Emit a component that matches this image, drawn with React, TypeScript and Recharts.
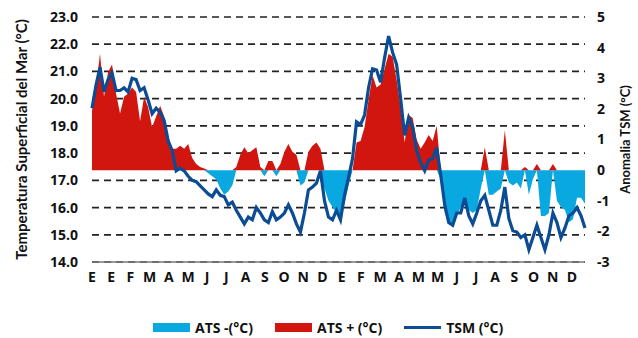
import {
  ComposedChart,
  Area,
  Line,
  XAxis,
  YAxis,
  CartesianGrid,
} from 'recharts';

// month labels along the x axis (as printed in the source figure)
const monthLabels = [
  'E', 'E', 'F', 'M', 'A', 'M', 'J', 'J', 'A', 'S', 'O', 'N', 'D',
  'E', 'F', 'M', 'A', 'M', 'M', 'J', 'J', 'A', 'S', 'O', 'N', 'D',
];

// sea surface temperature (°C), left axis
const tsm = [
  19.65, 20.5, 21.15, 20.25, 20.7, 20.95, 20.3, 20.3, 20.4, 20.25, 20.75, 20.7, 20.3, 20.4, 19.95, 19.45,
  19.65, 19.5, 19.2, 18.45, 18.1, 17.35, 17.45, 17.35, 17.15, 17.0, 16.95, 16.8, 16.65, 16.5, 16.4,
  16.65, 16.45, 16.4, 16.1, 16.2, 15.9, 15.65, 15.4, 15.65, 15.55, 16.0, 15.8, 15.55, 15.45, 15.85, 15.55,
  15.65, 15.8, 16.1, 15.8, 15.4, 15.1, 15.8, 16.65, 16.75, 16.9, 17.35, 16.25, 15.65, 15.55, 15.9,
  15.55, 16.45, 17.1, 17.8, 19.15, 19.05, 19.4, 20.4, 21.1, 21.05, 20.6, 21.5, 22.3, 21.7, 21.25, 20.0,
  18.65, 19.3, 18.95, 18.1, 17.65, 17.35, 17.75, 17.8, 18.2, 17.2, 16.1, 15.45, 15.35, 15.8, 15.8,
  16.35, 15.7, 15.4, 15.8, 16.25, 16.45, 15.9, 15.35, 15.35, 15.9, 16.75, 15.6, 15.15, 15.1, 14.9, 15.0,
  14.45, 14.9, 15.35, 14.9, 14.45, 15.0, 15.8, 15.45, 14.9, 15.25, 15.7, 15.8, 16.0, 15.7, 15.25,
];

// SST anomaly (°C), right axis
const ats = [
  1.94, 2.7, 3.8, 2.4, 3.2, 3.45, 2.5, 1.85, 2.4, 2.5, 2.7, 2.55, 1.6, 2.4, 2.05, 1.4,
  1.75, 2.1, 1.75, 1.1, 0.7, 0.7, 0.8, 0.7, 0.85, 0.4, 0.2, 0.1, 0.05, -0.1, -0.2,
  -0.3, -0.6, -0.8, -0.7, -0.5, 0.1, 0.5, 0.75, 0.55, 0.65, 0.75, 0.1, -0.2, 0.3, 0.3, -0.2,
  0.2, 0.6, 0.85, 0.6, 0.5, -0.5, -0.4, 0.6, 0.8, 0.9, 0.7, -0.6, -1.0, -1.2, -1.4,
  -1.5, -1.1, -0.5, 0.0, 0.9, 0.95, 1.4, 2.3, 3.1, 2.7, 2.8, 3.3, 3.8, 3.7, 2.95, 2.05,
  0.9, 1.8, 1.7, 1.0, 0.7, 0.9, 1.15, 0.95, 1.45, -0.3, -1.4, -1.7, -1.8, -1.5, -1.2,
  -1.1, -1.3, -1.4, -1.3, -0.6, 0.75, -0.8, -0.8, -0.7, -0.6, 1.3, -0.4, -0.5, -0.4, -0.6, 0.1,
  -0.8, -0.3, 0.2, -1.5, -1.5, -1.4, 0.2, -1.0, -1.2, -1.3, -1.7, -1.6, -0.9, -0.9, -1.1,
];

const leftTicks = [14, 15, 16, 17, 18, 19, 20, 21, 22, 23];
const rightTicks = [-3, -2, -1, 0, 1, 2, 3, 4, 5];

const CYAN = '#0AA8E0';
const RED = '#D0160F';
const BLUE = '#0B4C94';
const SANS = '"Open Sans", sans-serif';
const NARROW = 'Lato, sans-serif';

const data = tsm.map((t, i) => ({
  i,
  tsm: t,
  pos: ats[i] > 0 ? ats[i] : 0,
  neg: ats[i] < 0 ? ats[i] : 0,
}));

const last = tsm.length - 1;
const labelStep = 4.79;
const monthTicks = monthLabels.map((_, k) => k * labelStep);

const tickStyle = { fill: '#111', fontSize: 14, fontWeight: 700, fontFamily: SANS };

function LegendItem({ kind, color, text }: { kind: 'box' | 'line'; color: string; text: string }) {
  return (
    <div style={{ display: 'flex', alignItems: 'center', marginRight: 22 }}>
      <div
        style={{
          width: 37,
          height: kind === 'box' ? 9 : 2.5,
          background: color,
          marginRight: 5,
        }}
      />
      <span style={{ fontSize: 14, fontWeight: 700, color: '#111', fontFamily: SANS }}>{text}</span>
    </div>
  );
}

export default function App() {
  return (
    <div style={{ position: 'absolute', left: 0, top: 0, width: 638, height: 338, background: '#fff' }}>
      <ComposedChart
        width={638}
        height={338}
        data={data}
        margin={{ top: 17, right: 0, left: 0, bottom: 46 }}
      >
        <CartesianGrid
          yAxisId="left"
          vertical={false}
          stroke="#222"
          strokeWidth={1.7}
          strokeDasharray="7 5"
        />
        <XAxis
          dataKey="i"
          type="number"
          domain={[0, last]}
          ticks={monthTicks}
          tickFormatter={(v: number) => monthLabels[Math.round(v / labelStep)]}
          interval={0}
          tickLine={false}
          axisLine={{ stroke: '#777', strokeWidth: 1.5 }}
          tick={tickStyle}
          tickMargin={4}
          height={30}
        />
        <YAxis
          yAxisId="left"
          domain={[14, 23]}
          ticks={leftTicks}
          tickFormatter={(v: number) => v.toFixed(1)}
          axisLine={false}
          tickLine={false}
          tick={tickStyle}
          tickMargin={8}
          width={92}
          label={{
            value: 'Temperatura Superficial del Mar (°C)',
            angle: -90,
            position: 'center',
            dx: -24,
            style: { fill: '#111', fontSize: 15, fontWeight: 700, fontFamily: NARROW },
          }}
        />
        <YAxis
          yAxisId="right"
          orientation="right"
          domain={[-3, 5]}
          ticks={rightTicks}
          axisLine={false}
          tickLine={false}
          tick={tickStyle}
          tickMargin={6}
          width={53}
          label={{
            value: 'Anomalia TSM (°C)',
            angle: -90,
            position: 'center',
            dx: 14,
            style: { fill: '#111', fontSize: 13, fontWeight: 700, fontFamily: NARROW },
          }}
        />
        <Area
          yAxisId="right"
          type="linear"
          dataKey="neg"
          baseValue={0}
          stroke="none"
          fill={CYAN}
          fillOpacity={1}
          isAnimationActive={false}
        />
        <Area
          yAxisId="right"
          type="linear"
          dataKey="pos"
          baseValue={0}
          stroke="none"
          fill={RED}
          fillOpacity={1}
          isAnimationActive={false}
        />
        <Line
          yAxisId="left"
          type="linear"
          dataKey="tsm"
          stroke={BLUE}
          strokeWidth={3.2}
          dot={false}
          isAnimationActive={false}
        />
      </ComposedChart>
      <div style={{ position: 'absolute', left: 153, top: 318, display: 'flex' }}>
        <LegendItem kind="box" color={CYAN} text="ATS -(°C)" />
        <LegendItem kind="box" color={RED} text="ATS + (°C)" />
        <LegendItem kind="line" color={BLUE} text="TSM (°C)" />
      </div>
    </div>
  );
}
